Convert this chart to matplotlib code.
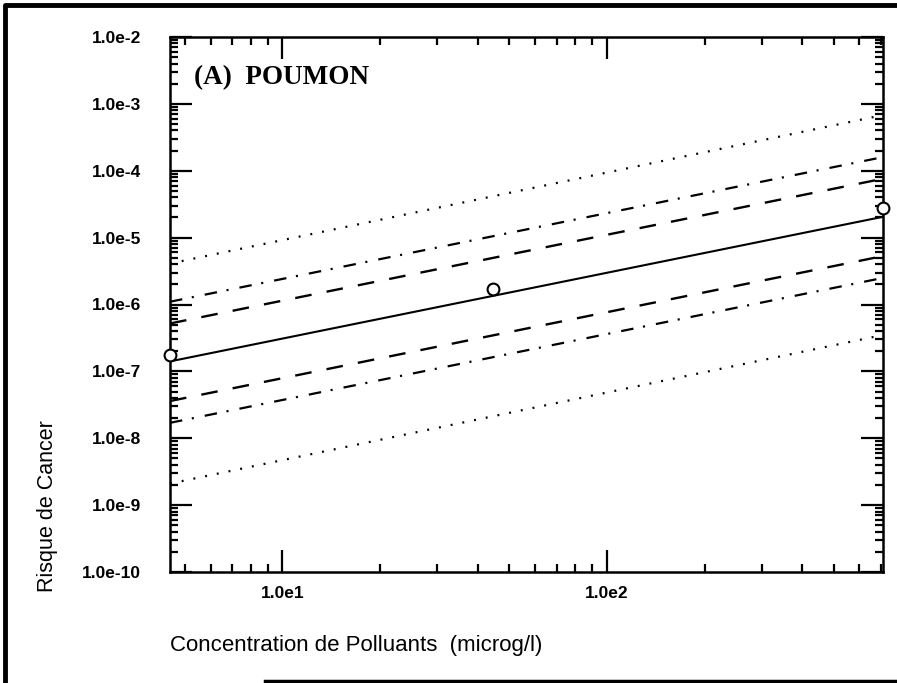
import numpy as np
import matplotlib
matplotlib.use('Agg')
import matplotlib.pyplot as plt
from matplotlib.lines import Line2D

plt.rcParams['font.family'] = ['Liberation Sans', 'DejaVu Sans']
plt.rcParams['lines.scale_dashes'] = False

# x range of the model lines (microg/l)
x_ends = [4.5, 710]

# model lines, value at each end of x_ends
central = [1.41e-7, 2.05e-5]
upper_dash = [5.2e-7, 7.6e-5]
upper_dashdot = [1.1e-6, 1.6e-4]
upper_dot = [4.1e-6, 6.8e-4]
lower_dash = [3.6e-8, 5.3e-6]
lower_dashdot = [1.7e-8, 2.5e-6]
lower_dot = [2.1e-9, 3.5e-7]

# observed points
obs_x = [4.5, 44.5, 710]
obs_y = [1.74e-7, 1.73e-6, 2.8e-5]

ytick_vals = [1e-10, 1e-9, 1e-8, 1e-7, 1e-6, 1e-5, 1e-4, 1e-3, 1e-2]
ytick_labels = ["1.0e-10", "1.0e-9", "1.0e-8", "1.0e-7", "1.0e-6",
                "1.0e-5", "1.0e-4", "1.0e-3", "1.0e-2"]
xtick_vals = [10, 100]
xtick_labels = ["1.0e1", "1.0e2"]

W, H = 897, 683
fig = plt.figure(figsize=(W / 100, H / 100), dpi=100)
ax = fig.add_axes([170 / W, 1 - 572 / H, (883 - 170) / W, (572 - 37) / H])

dash = (0, (12, 11))
dashdot = (0, (9, 7, 1.5, 8))
dot = (0, (1.4, 7.2))

ax.plot(x_ends, central, color='black', lw=1.5, ls='-')
ax.plot(x_ends, upper_dash, color='black', lw=1.7, ls=dash)
ax.plot(x_ends, lower_dash, color='black', lw=1.7, ls=dash)
ax.plot(x_ends, upper_dashdot, color='black', lw=1.6, ls=dashdot)
ax.plot(x_ends, lower_dashdot, color='black', lw=1.6, ls=dashdot)
ax.plot(x_ends, upper_dot, color='black', lw=1.6, ls=dot)
ax.plot(x_ends, lower_dot, color='black', lw=1.6, ls=dot)
ax.plot(obs_x, obs_y, ls='none', marker='o', ms=8.5, mfc='white',
        mec='black', mew=1.5, clip_on=False, zorder=5)

ax.set_xscale('log')
ax.set_yscale('log')
ax.set_xlim(x_ends)
ax.set_ylim(1e-10, 1e-2)

ax.set_yticks(ytick_vals)
ax.set_yticklabels(ytick_labels)
ax.set_xticks(xtick_vals)
ax.set_xticklabels(xtick_labels)
ax.yaxis.set_minor_locator(matplotlib.ticker.LogLocator(base=10, subs=np.arange(2, 10), numticks=20))
ax.xaxis.set_minor_locator(matplotlib.ticker.LogLocator(base=10, subs=np.arange(2, 10), numticks=20))
ax.yaxis.set_minor_formatter(matplotlib.ticker.NullFormatter())
ax.xaxis.set_minor_formatter(matplotlib.ticker.NullFormatter())

ax.tick_params(which='both', direction='in', top=True, right=True, width=1.6, color='black')
ax.tick_params(which='major', length=16)
ax.tick_params(which='minor', length=5.5)
ax.tick_params(axis='y', which='major', pad=21, labelsize=12.5)
ax.tick_params(axis='x', which='major', pad=10, labelsize=12.5)
for lab in ax.get_xticklabels() + ax.get_yticklabels():
    lab.set_fontweight('bold')
for sp in ax.spines.values():
    sp.set_linewidth(1.8)

# panel title
ax.text(0.034, 0.925, "(A)  POUMON", transform=ax.transAxes,
        family=['Liberation Serif', 'DejaVu Serif'], fontweight='bold',
        fontsize=19.5, va='center', ha='left')

fig.text(170 / W, 1 - 645 / H, "Concentration de Polluants  (microg/l)",
         fontsize=16, ha='left', va='center')
fig.text(47 / W, 1 - 592 / H, "Risque de Cancer", fontsize=15.5,
         rotation=90, ha='center', va='bottom')

# outer frame of the scanned page
frame_x = [5 / W, 5 / W, 1.01]
frame_y = [0.0, 1 - 5 / H, 1 - 5 / H]
fig.add_artist(Line2D(frame_x, frame_y, color='black', lw=3.5, transform=fig.transFigure))
fig.add_artist(Line2D([265 / W, 1.01], [1 - 681 / H, 1 - 681 / H], color='black', lw=2.5,
                      transform=fig.transFigure))

fig.savefig('out.png', dpi=100)
